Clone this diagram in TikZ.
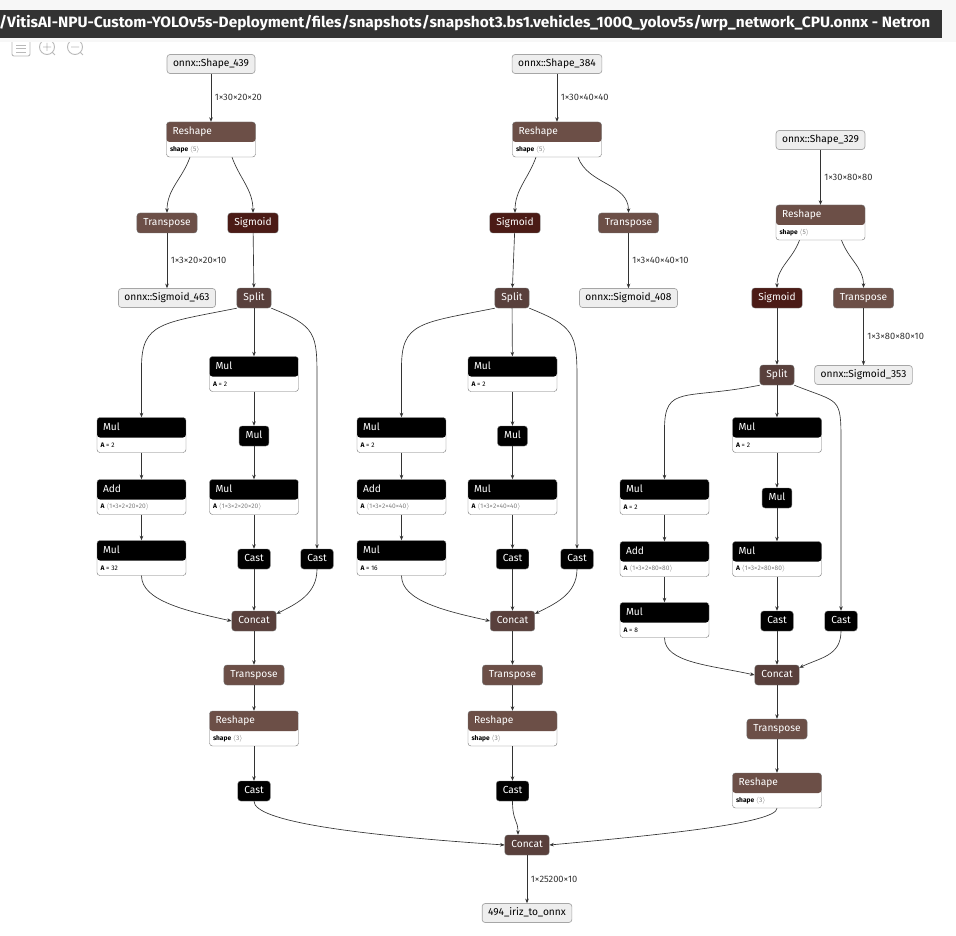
\documentclass[tikz,border=0pt]{standalone}
\usepackage{fontspec}
\setmainfont{Fira Sans}
\usetikzlibrary{arrows.meta}

\definecolor{shapeclr}{RGB}{108,79,71}
\definecolor{tensorclr}{RGB}{89,64,60}
\definecolor{actclr}{RGB}{75,27,22}
\definecolor{edgeclr}{RGB}{51,51,51}
\definecolor{barclr}{RGB}{51,51,51}
\definecolor{iofill}{RGB}{238,238,238}

\newcommand{\titlefont}{\fontsize{10.2}{12}\selectfont}
\newcommand{\attrfont}{\fontsize{6.6}{7.5}\selectfont}
\newcommand{\edgefont}{\fontsize{9.3}{11}\selectfont}
\newcommand{\shp}[1]{\textcolor{gray}{$\langle$#1$\rangle$}}

\begin{document}
\begin{tikzpicture}[x=1pt, y=1pt,
    op/.style={fill=#1, draw=black!55, rounded corners=3pt, text=white, font=\titlefont,
        minimum height=20pt, inner xsep=6.5pt, inner ysep=0pt, text height=7.3pt, text depth=2.3pt},
    io/.style={fill=iofill, draw=gray!70, line width=0.7pt, rounded corners=3pt, font=\titlefont,
        minimum height=19pt, inner xsep=6pt, inner ysep=0pt, text height=7.3pt, text depth=2.3pt},
    attrbox/.style={fill=white, draw=black!55, rounded corners=3pt, minimum width=89pt,
        minimum height=35pt, inner sep=0pt,
        path picture={\fill[#1] (path picture bounding box.north west) rectangle
            ([yshift=-20pt]path picture bounding box.north east);}},
    hdlbl/.style={anchor=north west, text=white, font=\titlefont, minimum height=20pt,
        inner xsep=6pt, inner ysep=0pt, text height=7.3pt, text depth=2.3pt},
    prmlbl/.style={anchor=north west, yshift=-20pt, font=\attrfont, minimum height=15pt,
        inner xsep=3.5pt, inner ysep=0pt},
    hdr/.style={label={[hdlbl]north west:#1}},
    prm/.style={label={[prmlbl]north west:#1}},
    edge/.style={draw=edgeclr, line width=0.65pt, -{Stealth[length=4.5pt,width=3.6pt]}},
    elbl/.style={right, font=\edgefont, text=edgeclr, inner xsep=3.5pt},
    icon/.style={draw=gray!55, line width=0.9pt}
]
% Page and window bar
\useasboundingbox (0,0) rectangle (956,-936);
\fill[white] (0,0) rectangle (956,-936);

\draw[icon, rounded corners=2pt] (12,-40) rectangle (30,-56);
\draw[icon] (16,-45) -- (26,-45) (16,-48.5) -- (26,-48.5) (16,-52) -- (26,-52);
\draw[icon] (47,-47) circle (7.5pt) (43,-47) -- (51,-47) (47,-43) -- (47,-51) (52.5,-52.5) -- (55,-55);
\draw[icon] (75,-47) circle (7.5pt) (71,-47) -- (79,-47) (80.5,-52.5) -- (83,-55);

\fill[gray!6] (0,0) rectangle (956,-42);
\fill[barclr] (0,-10) rectangle (942,-38);
\node[anchor=west, text=white, font=\bfseries\fontsize{15}{18}\selectfont, inner sep=0pt] (title) at (-1,-23)
    {\resizebox{931pt}{\height}{/VitisAI-NPU-Custom-YOLOv5s-Deployment/files/snapshots/snapshot3.bs1.vehicles\_100Q\_yolov5s/wrp\_network\_CPU.onnx - Netron}};

% Left branch
\node[io] (inA) at (211,-64) {onnx::Shape\_439};
\node[attrbox=shapeclr, hdr=Reshape, prm={\textbf{shape}\ \shp{5}}] (reshA) at (211,-139.5) {};
\node[op=shapeclr] (transA) at (167,-223) {Transpose};
\node[op=actclr] (sigA) at (253,-223) {Sigmoid};
\node[io] (outA) at (167,-298) {onnx::Sigmoid\_463};
\node[op=tensorclr] (splitA) at (254,-298) {Split};
\node[attrbox=black, hdr=Mul, prm={\textbf{A} = 2}] (mulA1) at (254,-374) {};
\node[attrbox=black, hdr=Mul, prm={\textbf{A} = 2}] (mulA2) at (141.5,-435) {};
\node[op=black] (mulA3) at (254,-436) {Mul};
\node[attrbox=black, hdr=Add, prm={\textbf{A}\ \shp{1×3×2×20×20}}] (addA) at (141.5,-497) {};
\node[attrbox=black, hdr=Mul, prm={\textbf{A}\ \shp{1×3×2×20×20}}] (mulA4) at (254,-497) {};
\node[attrbox=black, hdr=Mul, prm={\textbf{A} = 32}] (mulA5) at (141.5,-558) {};
\node[op=black] (castA1) at (254,-559) {Cast};
\node[op=black] (castA2) at (317,-559) {Cast};
\node[op=tensorclr] (concatA) at (254,-621) {Concat};
\node[op=shapeclr] (transA2) at (254,-675) {Transpose};
\node[attrbox=shapeclr, hdr=Reshape, prm={\textbf{shape}\ \shp{3}}] (reshA2) at (254,-728.5) {};
\node[op=black] (castA3) at (254,-791) {Cast};

% Middle branch
\node[io] (inB) at (557,-64) {onnx::Shape\_384};
\node[attrbox=shapeclr, hdr=Reshape, prm={\textbf{shape}\ \shp{5}}] (reshB) at (557,-139.5) {};
\node[op=actclr] (sigB) at (515,-223) {Sigmoid};
\node[op=shapeclr] (transB) at (628.5,-223) {Transpose};
\node[io] (outB) at (628.5,-298) {onnx::Sigmoid\_408};
\node[op=tensorclr] (splitB) at (512,-298) {Split};
\node[attrbox=black, hdr=Mul, prm={\textbf{A} = 2}] (mulB1) at (512.5,-374) {};
\node[attrbox=black, hdr=Mul, prm={\textbf{A} = 2}] (mulB2) at (401.5,-435) {};
\node[op=black] (mulB3) at (512.5,-436) {Mul};
\node[attrbox=black, hdr=Add, prm={\textbf{A}\ \shp{1×3×2×40×40}}] (addB) at (401.5,-497) {};
\node[attrbox=black, hdr=Mul, prm={\textbf{A}\ \shp{1×3×2×40×40}}] (mulB4) at (512.5,-497) {};
\node[attrbox=black, hdr=Mul, prm={\textbf{A} = 16}] (mulB5) at (401.5,-558) {};
\node[op=black] (castB1) at (512.5,-559) {Cast};
\node[op=black] (castB2) at (577,-559) {Cast};
\node[op=tensorclr] (concatB) at (512.5,-621) {Concat};
\node[op=shapeclr] (transB2) at (512.5,-675) {Transpose};
\node[attrbox=shapeclr, hdr=Reshape, prm={\textbf{shape}\ \shp{3}}] (reshB2) at (512.5,-728.5) {};
\node[op=black] (castB3) at (512.5,-791) {Cast};

% Right branch
\node[io] (inC) at (820.5,-140) {onnx::Shape\_329};
\node[attrbox=shapeclr, hdr=Reshape, prm={\textbf{shape}\ \shp{5}}] (reshC) at (820.5,-222.5) {};
\node[op=actclr] (sigC) at (777,-298) {Sigmoid};
\node[op=shapeclr] (transC) at (863.5,-298) {Transpose};
\node[io] (outC) at (863.5,-375) {onnx::Sigmoid\_353};
\node[op=tensorclr] (splitC) at (777,-375) {Split};
\node[attrbox=black, hdr=Mul, prm={\textbf{A} = 2}] (mulC1) at (777,-435) {};
\node[attrbox=black, hdr=Mul, prm={\textbf{A} = 2}] (mulC2) at (664.5,-497) {};
\node[op=black] (mulC3) at (777,-498) {Mul};
\node[attrbox=black, hdr=Add, prm={\textbf{A}\ \shp{1×3×2×80×80}}] (addC) at (664.5,-559) {};
\node[attrbox=black, hdr=Mul, prm={\textbf{A}\ \shp{1×3×2×80×80}}] (mulC4) at (777,-559) {};
\node[attrbox=black, hdr=Mul, prm={\textbf{A} = 8}] (mulC5) at (664.5,-620) {};
\node[op=black] (castC1) at (777,-621) {Cast};
\node[op=black] (castC2) at (841,-621) {Cast};
\node[op=tensorclr] (concatC) at (777,-675) {Concat};
\node[op=shapeclr] (transC2) at (777,-729) {Transpose};
\node[attrbox=shapeclr, hdr=Reshape, prm={\textbf{shape}\ \shp{3}}] (reshC2) at (777,-790.5) {};

% Output
\node[op=tensorclr] (concat) at (527,-845) {Concat};
\node[io] (output) at (527,-913) {494\_iriz\_to\_onnx};

% Connections, left
\draw[edge] (inA) -- node[elbl] {1×30×20×20} (reshA);
\draw[edge] ([xshift=-21pt]reshA.south) to[out=-110,in=90] (transA.north);
\draw[edge] ([xshift=21pt]reshA.south) to[out=-70,in=90] (sigA.north);
\draw[edge] (transA) -- node[elbl] {1×3×20×20×10} (outA);
\draw[edge] (sigA) -- (splitA);
\draw[edge] (splitA) -- (mulA1);
\draw[edge] (splitA.south west) .. controls +(-75,-15) and +(0,45) .. ([yshift=50pt]mulA2.north) -- (mulA2.north);
\draw[edge] (splitA.south east) .. controls +(45,-18) and +(0,45) .. ([yshift=170pt]castA2.north) -- (castA2.north);
\draw[edge] (mulA1) -- (mulA3);
\draw[edge] (mulA3) -- (mulA4);
\draw[edge] (mulA4) -- (castA1);
\draw[edge] (castA1) -- (concatA);
\draw[edge] (mulA2) -- (addA);
\draw[edge] (addA) -- (mulA5);
\draw[edge] (mulA5.south) .. controls +(0,-25) and +(-45,10) .. (concatA.west);
\draw[edge] (castA2.south) .. controls +(0,-25) and +(20,10) .. ([yshift=-3pt]concatA.north east);
\draw[edge] (concatA) -- (transA2);
\draw[edge] (transA2) -- (reshA2);
\draw[edge] (reshA2) -- (castA3);

% Connections, middle
\draw[edge] (inB) -- node[elbl] {1×30×40×40} (reshB);
\draw[edge] ([xshift=-21pt]reshB.south) to[out=-110,in=90] (sigB.north);
\draw[edge] ([xshift=21pt]reshB.south) to[out=-70,in=90] (transB.north);
\draw[edge] (transB) -- node[elbl] {1×3×40×40×10} (outB);
\draw[edge] (sigB) -- (splitB);
\draw[edge] (splitB) -- (mulB1);
\draw[edge] (splitB.south west) .. controls +(-75,-15) and +(0,45) .. ([yshift=50pt]mulB2.north) -- (mulB2.north);
\draw[edge] (splitB.south east) .. controls +(45,-18) and +(0,45) .. ([yshift=170pt]castB2.north) -- (castB2.north);
\draw[edge] (mulB1) -- (mulB3);
\draw[edge] (mulB3) -- (mulB4);
\draw[edge] (mulB4) -- (castB1);
\draw[edge] (castB1) -- (concatB);
\draw[edge] (mulB2) -- (addB);
\draw[edge] (addB) -- (mulB5);
\draw[edge] (mulB5.south) .. controls +(0,-25) and +(-45,10) .. (concatB.west);
\draw[edge] (castB2.south) .. controls +(0,-25) and +(20,10) .. ([yshift=-3pt]concatB.north east);
\draw[edge] (concatB) -- (transB2);
\draw[edge] (transB2) -- (reshB2);
\draw[edge] (reshB2) -- (castB3);

% Connections, right
\draw[edge] (inC) -- node[elbl] {1×30×80×80} (reshC);
\draw[edge] ([xshift=-21pt]reshC.south) to[out=-110,in=90] (sigC.north);
\draw[edge] ([xshift=21pt]reshC.south) to[out=-70,in=90] (transC.north);
\draw[edge] (transC) -- node[elbl] {1×3×80×80×10} (outC);
\draw[edge] (sigC) -- (splitC);
\draw[edge] (splitC) -- (mulC1);
\draw[edge] (splitC.south west) .. controls +(-75,-15) and +(0,45) .. ([yshift=50pt]mulC2.north) -- (mulC2.north);
\draw[edge] (splitC.south east) .. controls +(45,-18) and +(0,45) .. ([yshift=170pt]castC2.north) -- (castC2.north);
\draw[edge] (mulC1) -- (mulC3);
\draw[edge] (mulC3) -- (mulC4);
\draw[edge] (mulC4) -- (castC1);
\draw[edge] (castC1) -- (concatC);
\draw[edge] (mulC2) -- (addC);
\draw[edge] (addC) -- (mulC5);
\draw[edge] (mulC5.south) .. controls +(0,-25) and +(-45,10) .. (concatC.west);
\draw[edge] (castC2.south) .. controls +(0,-25) and +(20,10) .. ([yshift=-3pt]concatC.north east);
\draw[edge] (concatC) -- (transC2);
\draw[edge] (transC2) -- (reshC2);

% Connections, output
\draw[edge] (castA3.south) .. controls +(0,-20) and +(-150,10) .. (concat.west);
\draw[edge] (castB3.south) .. controls +(0,-20) and +(0,15) .. ([xshift=-9pt]concat.north);
\draw[edge] (reshC2.south) .. controls +(0,-15) and +(110,10) .. (concat.east);
\draw[edge] (concat) -- node[elbl] {1×25200×10} (output);

\end{tikzpicture}
\end{document}
